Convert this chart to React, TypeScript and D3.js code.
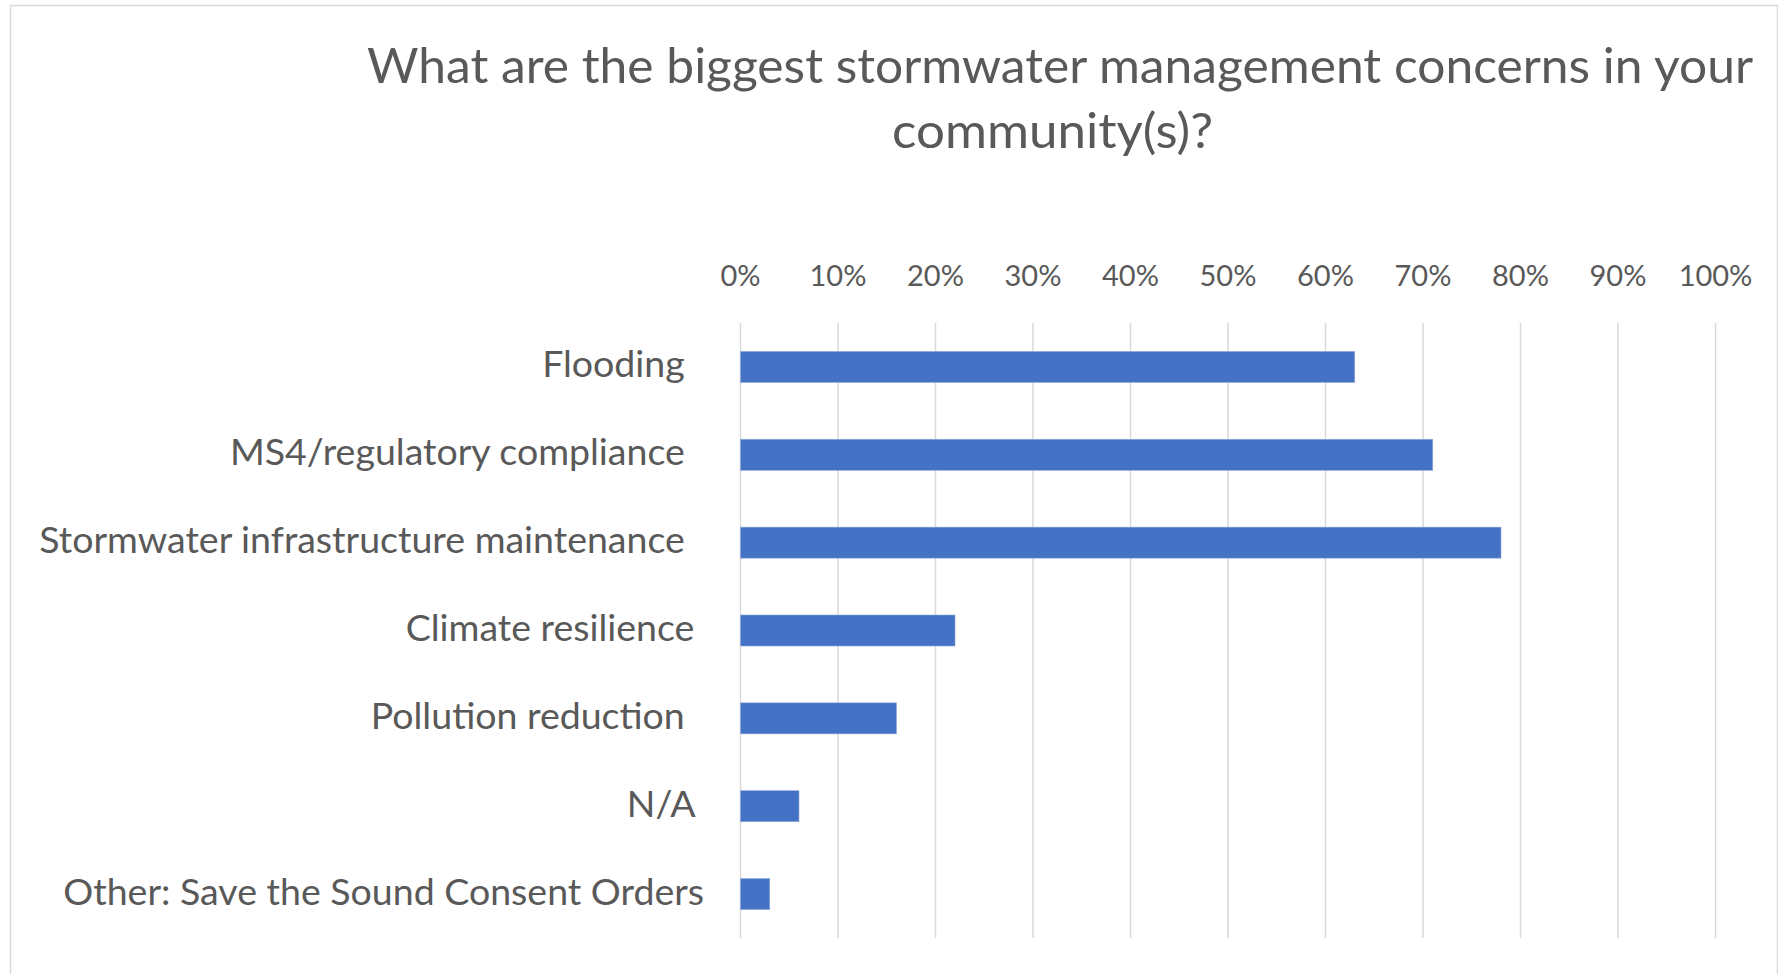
import React from "react";
import * as d3 from "d3";

const titleLines = [
  "What are the biggest stormwater management concerns in your",
  "community(s)?",
];
const categories = [
  "Flooding  ",
  "MS4/regulatory compliance  ",
  "Stormwater infrastructure maintenance  ",
  "Climate resilience ",
  "Pollution reduction  ",
  "N/A ",
  "Other: Save the Sound Consent Orders",
];
const values = [0.63, 0.71, 0.78, 0.22, 0.16, 0.06, 0.03];
const tickValues = [0, 0.1, 0.2, 0.3, 0.4, 0.5, 0.6, 0.7, 0.8, 0.9, 1.0];

const W = 1778;
const H = 974;
const FONT = "Lato, 'Open Sans', sans-serif";
const TEXT = "#595959";
const GRID = "#d9d9d9";
const BAR = "#4472C4";

export default function App() {
  const x = d3.scaleLinear().domain([0, 1]).range([740.5, 1715.5]);
  const y = d3
    .scaleBand<string>()
    .domain(categories)
    .range([323, 938])
    .paddingInner(0.647)
    .paddingOuter(0.3235);
  const fmt = d3.format(".0%");
  const labelRight = 704;

  return (
    <svg
      width={W}
      height={H}
      style={{ position: "absolute", left: 0, top: 0, background: "#fff" }}
      fontFamily={FONT}
    >
      <rect x={0} y={0} width={W} height={H} fill="#fff" />
      <rect
        x={10.5}
        y={5.5}
        width={1767}
        height={1000}
        fill="#fff"
        stroke={GRID}
        strokeWidth={1.5}
      />
      <g fill={TEXT} fontSize={48.5}>
        <text x={367} y={83} textLength={1386} lengthAdjust="spacingAndGlyphs">
          {titleLines[0]}
        </text>
        <text x={892} y={148} textLength={321} lengthAdjust="spacingAndGlyphs">
          {titleLines[1]}
        </text>
      </g>
      <g>
        {tickValues.map((t) => (
          <line
            key={"g" + t}
            x1={x(t)}
            x2={x(t)}
            y1={323}
            y2={938}
            stroke={GRID}
            strokeWidth={1.5}
          />
        ))}
        {tickValues.map((t) => (
          <text
            key={"t" + t}
            x={x(t)}
            y={285.7}
            textAnchor="middle"
            fill={TEXT}
            fontSize={29}
          >
            {fmt(t)}
          </text>
        ))}
      </g>
      <g>
        {categories.map((c, i) => (
          <rect
            key={"b" + c}
            x={x(0)}
            y={y(c)!}
            width={x(values[i]) - x(0)}
            height={y.bandwidth()}
            fill={BAR}
            stroke="#8faadc"
            strokeWidth={0.6}
          />
        ))}
      </g>
      <g fill={TEXT} fontSize={37.5}>
        {categories.map((c) => (
          <text
            key={"l" + c}
            x={labelRight}
            y={y(c)! + y.bandwidth() / 2 + 10.5}
            textAnchor="end"
            style={{ whiteSpace: "pre" }}
          >
            {c}
          </text>
        ))}
      </g>
    </svg>
  );
}
